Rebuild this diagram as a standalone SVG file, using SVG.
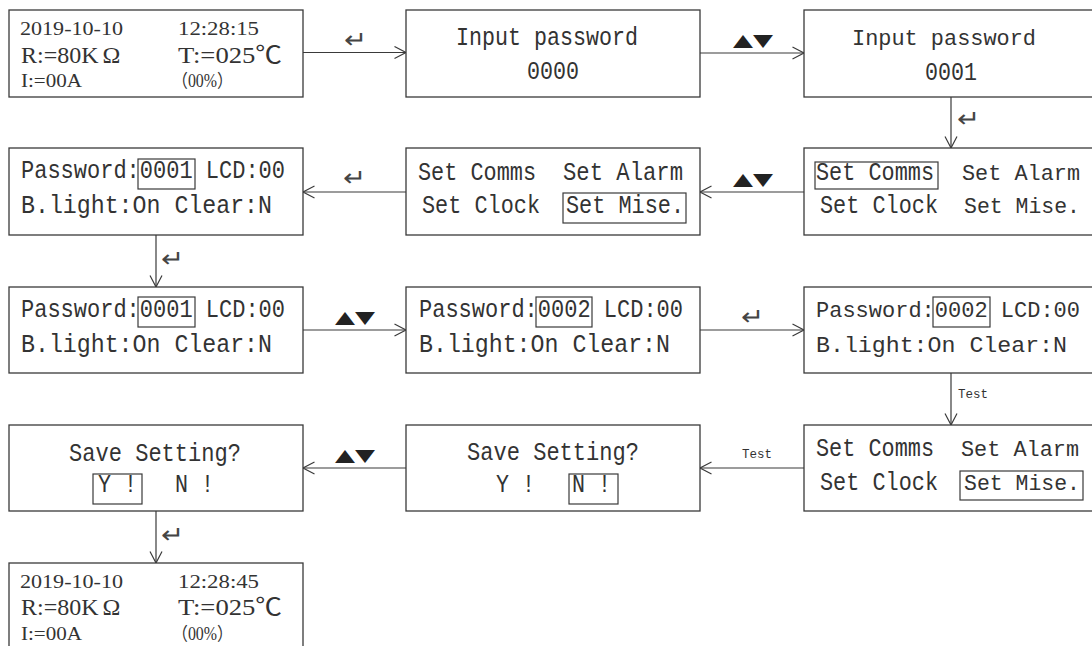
<svg xmlns="http://www.w3.org/2000/svg" width="1092" height="646" viewBox="0 0 1092 646">
<defs>
<style>
.box{fill:#fff;stroke:#3a3a3a;stroke-width:1.3}
.hl{fill:none;stroke:#3a3a3a;stroke-width:1.2}
.con{fill:none;stroke:#3a3a3a;stroke-width:1.2}
.m{font-family:"Liberation Mono","DejaVu Sans Mono",monospace;font-size:25px;fill:#333}
.mr{font-family:"Liberation Mono","DejaVu Sans Mono",monospace;font-size:22.5px;fill:#333}
.s{font-family:"Liberation Serif","Noto Sans CJK SC",serif;fill:#333}
.t{font-family:"Liberation Mono",monospace;font-size:12.5px;fill:#333}
.k{font-family:"DejaVu Sans",sans-serif;font-size:17px;fill:#222}
.r{font-family:"DejaVu Sans","Noto Sans CJK SC",sans-serif;font-size:24px;font-weight:200;fill:#444}
</style>
<marker id="ah" markerUnits="userSpaceOnUse" markerWidth="14" markerHeight="14" refX="12" refY="7" orient="auto">
<path d="M0.5,1 L12,7 L0.5,13" fill="none" stroke="#3a3a3a" stroke-width="1.2"/>
</marker>
</defs>
<rect width="1092" height="646" fill="#fff"/>

<g id="connectors">
<path class="con" d="M303,52.5 H406" marker-end="url(#ah)"/>
<path class="con" d="M700,53 H804" marker-end="url(#ah)"/>
<path class="con" d="M951,97 V148" marker-end="url(#ah)"/>
<path class="con" d="M804,192 H700" marker-end="url(#ah)"/>
<path class="con" d="M406,192 H303" marker-end="url(#ah)"/>
<path class="con" d="M156,234 V287" marker-end="url(#ah)"/>
<path class="con" d="M303,330 H406" marker-end="url(#ah)"/>
<path class="con" d="M700,330 H804" marker-end="url(#ah)"/>
<path class="con" d="M951,373 V425" marker-end="url(#ah)"/>
<path class="con" d="M804,468 H700" marker-end="url(#ah)"/>
<path class="con" d="M406,468 H303" marker-end="url(#ah)"/>
<path class="con" d="M156,511 V563" marker-end="url(#ah)"/>
<text class="r" x="344" y="48" textLength="23" lengthAdjust="spacingAndGlyphs">↵</text>
<text class="k" x="733" y="46" textLength="40" lengthAdjust="spacingAndGlyphs">▲▼</text>
<text class="r" x="957" y="127" textLength="23" lengthAdjust="spacingAndGlyphs">↵</text>
<text class="k" x="733" y="185" textLength="40" lengthAdjust="spacingAndGlyphs">▲▼</text>
<text class="r" x="343" y="186" textLength="23" lengthAdjust="spacingAndGlyphs">↵</text>
<text class="r" x="161" y="267" textLength="23" lengthAdjust="spacingAndGlyphs">↵</text>
<text class="k" x="335" y="323" textLength="40" lengthAdjust="spacingAndGlyphs">▲▼</text>
<text class="r" x="741" y="325" textLength="23" lengthAdjust="spacingAndGlyphs">↵</text>
<text class="t" x="958" y="398">Test</text>
<text class="t" x="742" y="458">Test</text>
<text class="k" x="335" y="461" textLength="40" lengthAdjust="spacingAndGlyphs">▲▼</text>
<text class="r" x="161" y="543" textLength="23" lengthAdjust="spacingAndGlyphs">↵</text>
</g>

<g id="node-main-1">
<rect class="box" x="9" y="10" width="294" height="87"/>
<text class="s" x="20" y="35" font-size="19" textLength="103" lengthAdjust="spacingAndGlyphs">2019-10-10</text>
<text class="s" x="178" y="35" font-size="19" textLength="81" lengthAdjust="spacingAndGlyphs">12:28:15</text>
<text class="s" x="21" y="63" font-size="24">R:=80K<tspan dx="4">Ω</tspan></text>
<text class="s" x="178" y="63" font-size="24" textLength="104" lengthAdjust="spacingAndGlyphs">T:=025℃</text>
<text class="s" x="21" y="87" font-size="18" textLength="61" lengthAdjust="spacingAndGlyphs">I:=00A</text>
<text class="s" x="172" y="87" font-size="18" textLength="61" lengthAdjust="spacingAndGlyphs">（00%）</text>
</g>

<g id="node-pwd-0000">
<rect class="box" x="406" y="10" width="294" height="87"/>
<text class="m" x="456" y="45" textLength="182" lengthAdjust="spacingAndGlyphs">Input password</text>
<text class="m" x="527" y="79" textLength="52" lengthAdjust="spacingAndGlyphs">0000</text>
</g>

<g id="node-pwd-0001">
<rect class="box" x="804" y="10" width="294" height="87"/>
<text class="mr" x="852" y="45" textLength="184" lengthAdjust="spacingAndGlyphs">Input password</text>
<text class="m" x="925" y="80" textLength="52" lengthAdjust="spacingAndGlyphs">0001</text>
</g>

<g id="node-menu-comms">
<rect class="box" x="804" y="148" width="294" height="87"/>
<rect class="hl" x="815" y="162" width="123" height="27"/>
<text class="m" x="816" y="180" textLength="118" lengthAdjust="spacingAndGlyphs">Set Comms</text>
<text class="mr" x="962" y="180" textLength="118" lengthAdjust="spacingAndGlyphs">Set Alarm</text>
<text class="m" x="820" y="213" textLength="118" lengthAdjust="spacingAndGlyphs">Set Clock</text>
<text class="mr" x="964" y="213" textLength="116" lengthAdjust="spacingAndGlyphs">Set Mise.</text>
</g>

<g id="node-menu-mise-1">
<rect class="box" x="406" y="148" width="294" height="87"/>
<rect class="hl" x="563" y="193" width="123" height="30"/>
<text class="m" x="418" y="180" textLength="118" lengthAdjust="spacingAndGlyphs">Set Comms</text>
<text class="m" x="563" y="180" textLength="120" lengthAdjust="spacingAndGlyphs">Set Alarm</text>
<text class="m" x="422" y="213" textLength="118" lengthAdjust="spacingAndGlyphs">Set Clock</text>
<text class="m" x="566" y="213" textLength="118" lengthAdjust="spacingAndGlyphs">Set Mise.</text>
</g>

<g id="node-misc-0001-a">
<rect class="box" x="9" y="148" width="294" height="87"/>
<rect class="hl" x="138" y="159" width="57" height="30"/>
<text class="m" x="21" y="178" textLength="264" lengthAdjust="spacingAndGlyphs">Password:0001 LCD:00</text>
<text class="m" x="21" y="213" textLength="251" lengthAdjust="spacingAndGlyphs">B.light:On  Clear:N</text>
</g>

<g id="node-misc-0001-b">
<rect class="box" x="9" y="287" width="294" height="86"/>
<rect class="hl" x="138" y="297" width="57" height="30"/>
<text class="m" x="21" y="317" textLength="264" lengthAdjust="spacingAndGlyphs">Password:0001 LCD:00</text>
<text class="m" x="21" y="352" textLength="251" lengthAdjust="spacingAndGlyphs">B.light:On  Clear:N</text>
</g>

<g id="node-misc-0002-a">
<rect class="box" x="406" y="287" width="294" height="86"/>
<rect class="hl" x="536" y="297" width="56" height="30"/>
<text class="m" x="419" y="317" textLength="264" lengthAdjust="spacingAndGlyphs">Password:0002 LCD:00</text>
<text class="m" x="419" y="352" textLength="251" lengthAdjust="spacingAndGlyphs">B.light:On  Clear:N</text>
</g>

<g id="node-misc-0002-b">
<rect class="box" x="804" y="287" width="294" height="86"/>
<rect class="hl" x="933" y="297" width="57" height="30"/>
<text class="mr" x="816" y="317" textLength="264" lengthAdjust="spacingAndGlyphs">Password:0002 LCD:00</text>
<text class="mr" x="816" y="352" textLength="251" lengthAdjust="spacingAndGlyphs">B.light:On  Clear:N</text>
</g>

<g id="node-menu-mise-2">
<rect class="box" x="804" y="425" width="294" height="86"/>
<rect class="hl" x="960" y="471" width="123" height="29"/>
<text class="m" x="816" y="456" textLength="118" lengthAdjust="spacingAndGlyphs">Set Comms</text>
<text class="mr" x="961" y="456" textLength="118" lengthAdjust="spacingAndGlyphs">Set Alarm</text>
<text class="m" x="820" y="490" textLength="118" lengthAdjust="spacingAndGlyphs">Set Clock</text>
<text class="mr" x="964" y="490" textLength="116" lengthAdjust="spacingAndGlyphs">Set Mise.</text>
</g>

<g id="node-save-n">
<rect class="box" x="406" y="425" width="294" height="86"/>
<rect class="hl" x="569" y="474" width="49" height="30"/>
<text class="m" x="467" y="460" textLength="172" lengthAdjust="spacingAndGlyphs">Save Setting?</text>
<text class="m" x="496" y="492" textLength="39" lengthAdjust="spacingAndGlyphs">Y !</text>
<text class="m" x="572" y="492" textLength="39" lengthAdjust="spacingAndGlyphs">N !</text>
</g>

<g id="node-save-y">
<rect class="box" x="9" y="425" width="294" height="86"/>
<rect class="hl" x="93" y="474" width="49" height="30"/>
<text class="m" x="69" y="461" textLength="172" lengthAdjust="spacingAndGlyphs">Save Setting?</text>
<text class="m" x="98" y="492" textLength="39" lengthAdjust="spacingAndGlyphs">Y !</text>
<text class="m" x="175" y="492" textLength="39" lengthAdjust="spacingAndGlyphs">N !</text>
</g>

<g id="node-main-2">
<rect class="box" x="9" y="563" width="294" height="90"/>
<text class="s" x="20" y="588" font-size="19" textLength="103" lengthAdjust="spacingAndGlyphs">2019-10-10</text>
<text class="s" x="178" y="588" font-size="19" textLength="81" lengthAdjust="spacingAndGlyphs">12:28:45</text>
<text class="s" x="21" y="615" font-size="24">R:=80K<tspan dx="4">Ω</tspan></text>
<text class="s" x="178" y="615" font-size="24" textLength="104" lengthAdjust="spacingAndGlyphs">T:=025℃</text>
<text class="s" x="21" y="640" font-size="18" textLength="61" lengthAdjust="spacingAndGlyphs">I:=00A</text>
<text class="s" x="172" y="640" font-size="18" textLength="61" lengthAdjust="spacingAndGlyphs">（00%）</text>
</g>
</svg>
